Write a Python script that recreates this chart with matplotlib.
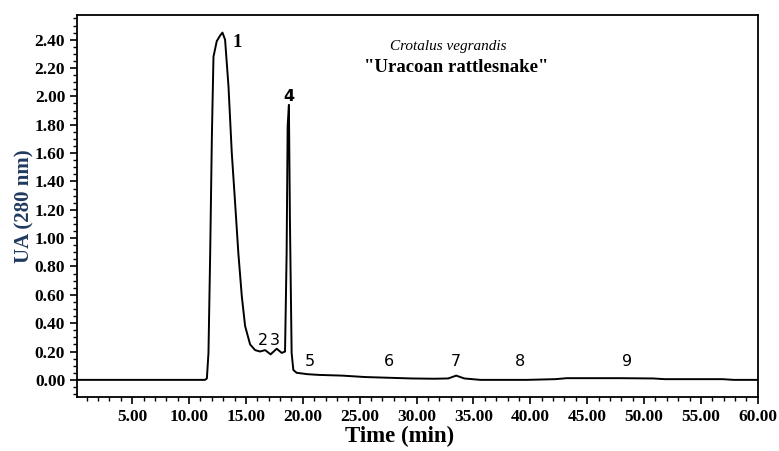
import numpy as np
import matplotlib
matplotlib.use("Agg")
import matplotlib.pyplot as plt
from matplotlib.ticker import MultipleLocator, FormatStrFormatter

# chromatogram trace (time in min, absorbance UA)
time_min = [0.15, 5.22, 11.40, 11.57, 11.71, 11.86, 12.01, 12.15, 12.44, 12.74, 12.94,
            13.17, 13.47, 13.76, 14.05, 14.34, 14.64, 14.93, 15.37, 15.81, 16.24,
            16.69, 17.17, 17.71, 18.15, 18.44, 18.58, 18.67, 18.78, 18.87, 19.02,
            19.17, 19.46, 20.42, 21.43, 23.46, 25.48, 27.51, 29.53, 31.56, 32.78, 33.49,
            34.2, 35.61, 39.67, 42.2, 43.21, 47.77, 50.81, 51.82, 56.89, 57.9, 60.0]
absorbance = [0.0, 0.0, 0.0, 0.01, 0.19, 0.89, 1.72, 2.28, 2.39, 2.43, 2.45,
              2.40, 2.07, 1.60, 1.25, 0.89, 0.59, 0.38, 0.25, 0.21, 0.20,
              0.21, 0.18, 0.22, 0.19, 0.20, 0.89, 1.79, 1.94, 1.13, 0.19,
              0.07, 0.05, 0.04, 0.035, 0.03, 0.02, 0.015, 0.01, 0.008, 0.01, 0.03,
              0.01, 0.0, 0.0, 0.005, 0.012, 0.012, 0.01, 0.005, 0.005, 0.0, 0.0]

# peak numbers and where they are written
peak_labels = ["1", "2", "3", "4", "5", "6", "7", "8", "9"]
label_time = [14.24, 16.47, 17.58, 18.8, 20.62, 27.61, 33.49, 39.06, 48.48]
label_abs = [2.38, 0.28, 0.28, 2.0, 0.13, 0.13, 0.13, 0.13, 0.13]

serif = ["Liberation Serif", "DejaVu Serif"]
sans = ["DejaVu Sans"]

fig = plt.figure(figsize=(7.79, 4.51), dpi=100)
ax = fig.add_axes([0.0988, 0.12, 0.874, 0.847])

ax.plot(time_min, absorbance, color="black", linewidth=1.4)

ax.set_xlim(0.15, 60.0)
ax.set_ylim(-0.12, 2.575)

ax.xaxis.set_major_locator(MultipleLocator(5))
ax.xaxis.set_minor_locator(MultipleLocator(1))
ax.yaxis.set_major_locator(MultipleLocator(0.2))
ax.yaxis.set_minor_locator(MultipleLocator(0.05))
ax.xaxis.set_major_formatter(FormatStrFormatter("%.2f"))
ax.yaxis.set_major_formatter(FormatStrFormatter("%.2f"))
ax.tick_params(which="major", direction="out", length=5, width=1.2)
ax.tick_params(which="minor", direction="out", length=3, width=1.0)
for lab in ax.get_xticklabels() + ax.get_yticklabels():
    lab.set_family(serif)
    lab.set_fontweight("bold")
    lab.set_fontsize(12.5)

for sp in ax.spines.values():
    sp.set_linewidth(1.3)

ax.set_xlabel("Time (min)", family=serif, fontweight="bold", fontsize=16.5)
ax.xaxis.set_label_coords(0.474, -0.076)
ax.set_ylabel("UA (280 nm)", family=serif, fontweight="bold", fontsize=15,
              color="#1f3a5f")
ax.yaxis.set_label_coords(-0.063, 0.5)

# species annotation
ax.text(0.545, 0.918, "Crotalus vegrandis", transform=ax.transAxes,
        family=serif, style="italic", fontsize=11, ha="center", va="center")
ax.text(0.557, 0.862, '"Uracoan rattlesnake"', transform=ax.transAxes,
        family=serif, fontweight="bold", fontsize=13.5, ha="center", va="center")

for lab, t, a in zip(peak_labels, label_time, label_abs):
    if lab == "1":
        ax.text(t, a, lab, family=serif, fontweight="bold", fontsize=13.5,
                ha="center", va="center")
    else:
        ax.text(t, a, lab, family=sans, fontweight="bold" if lab == "4" else "normal",
                fontsize=11.5, ha="center", va="center")

fig.savefig("out.png", dpi=100)
